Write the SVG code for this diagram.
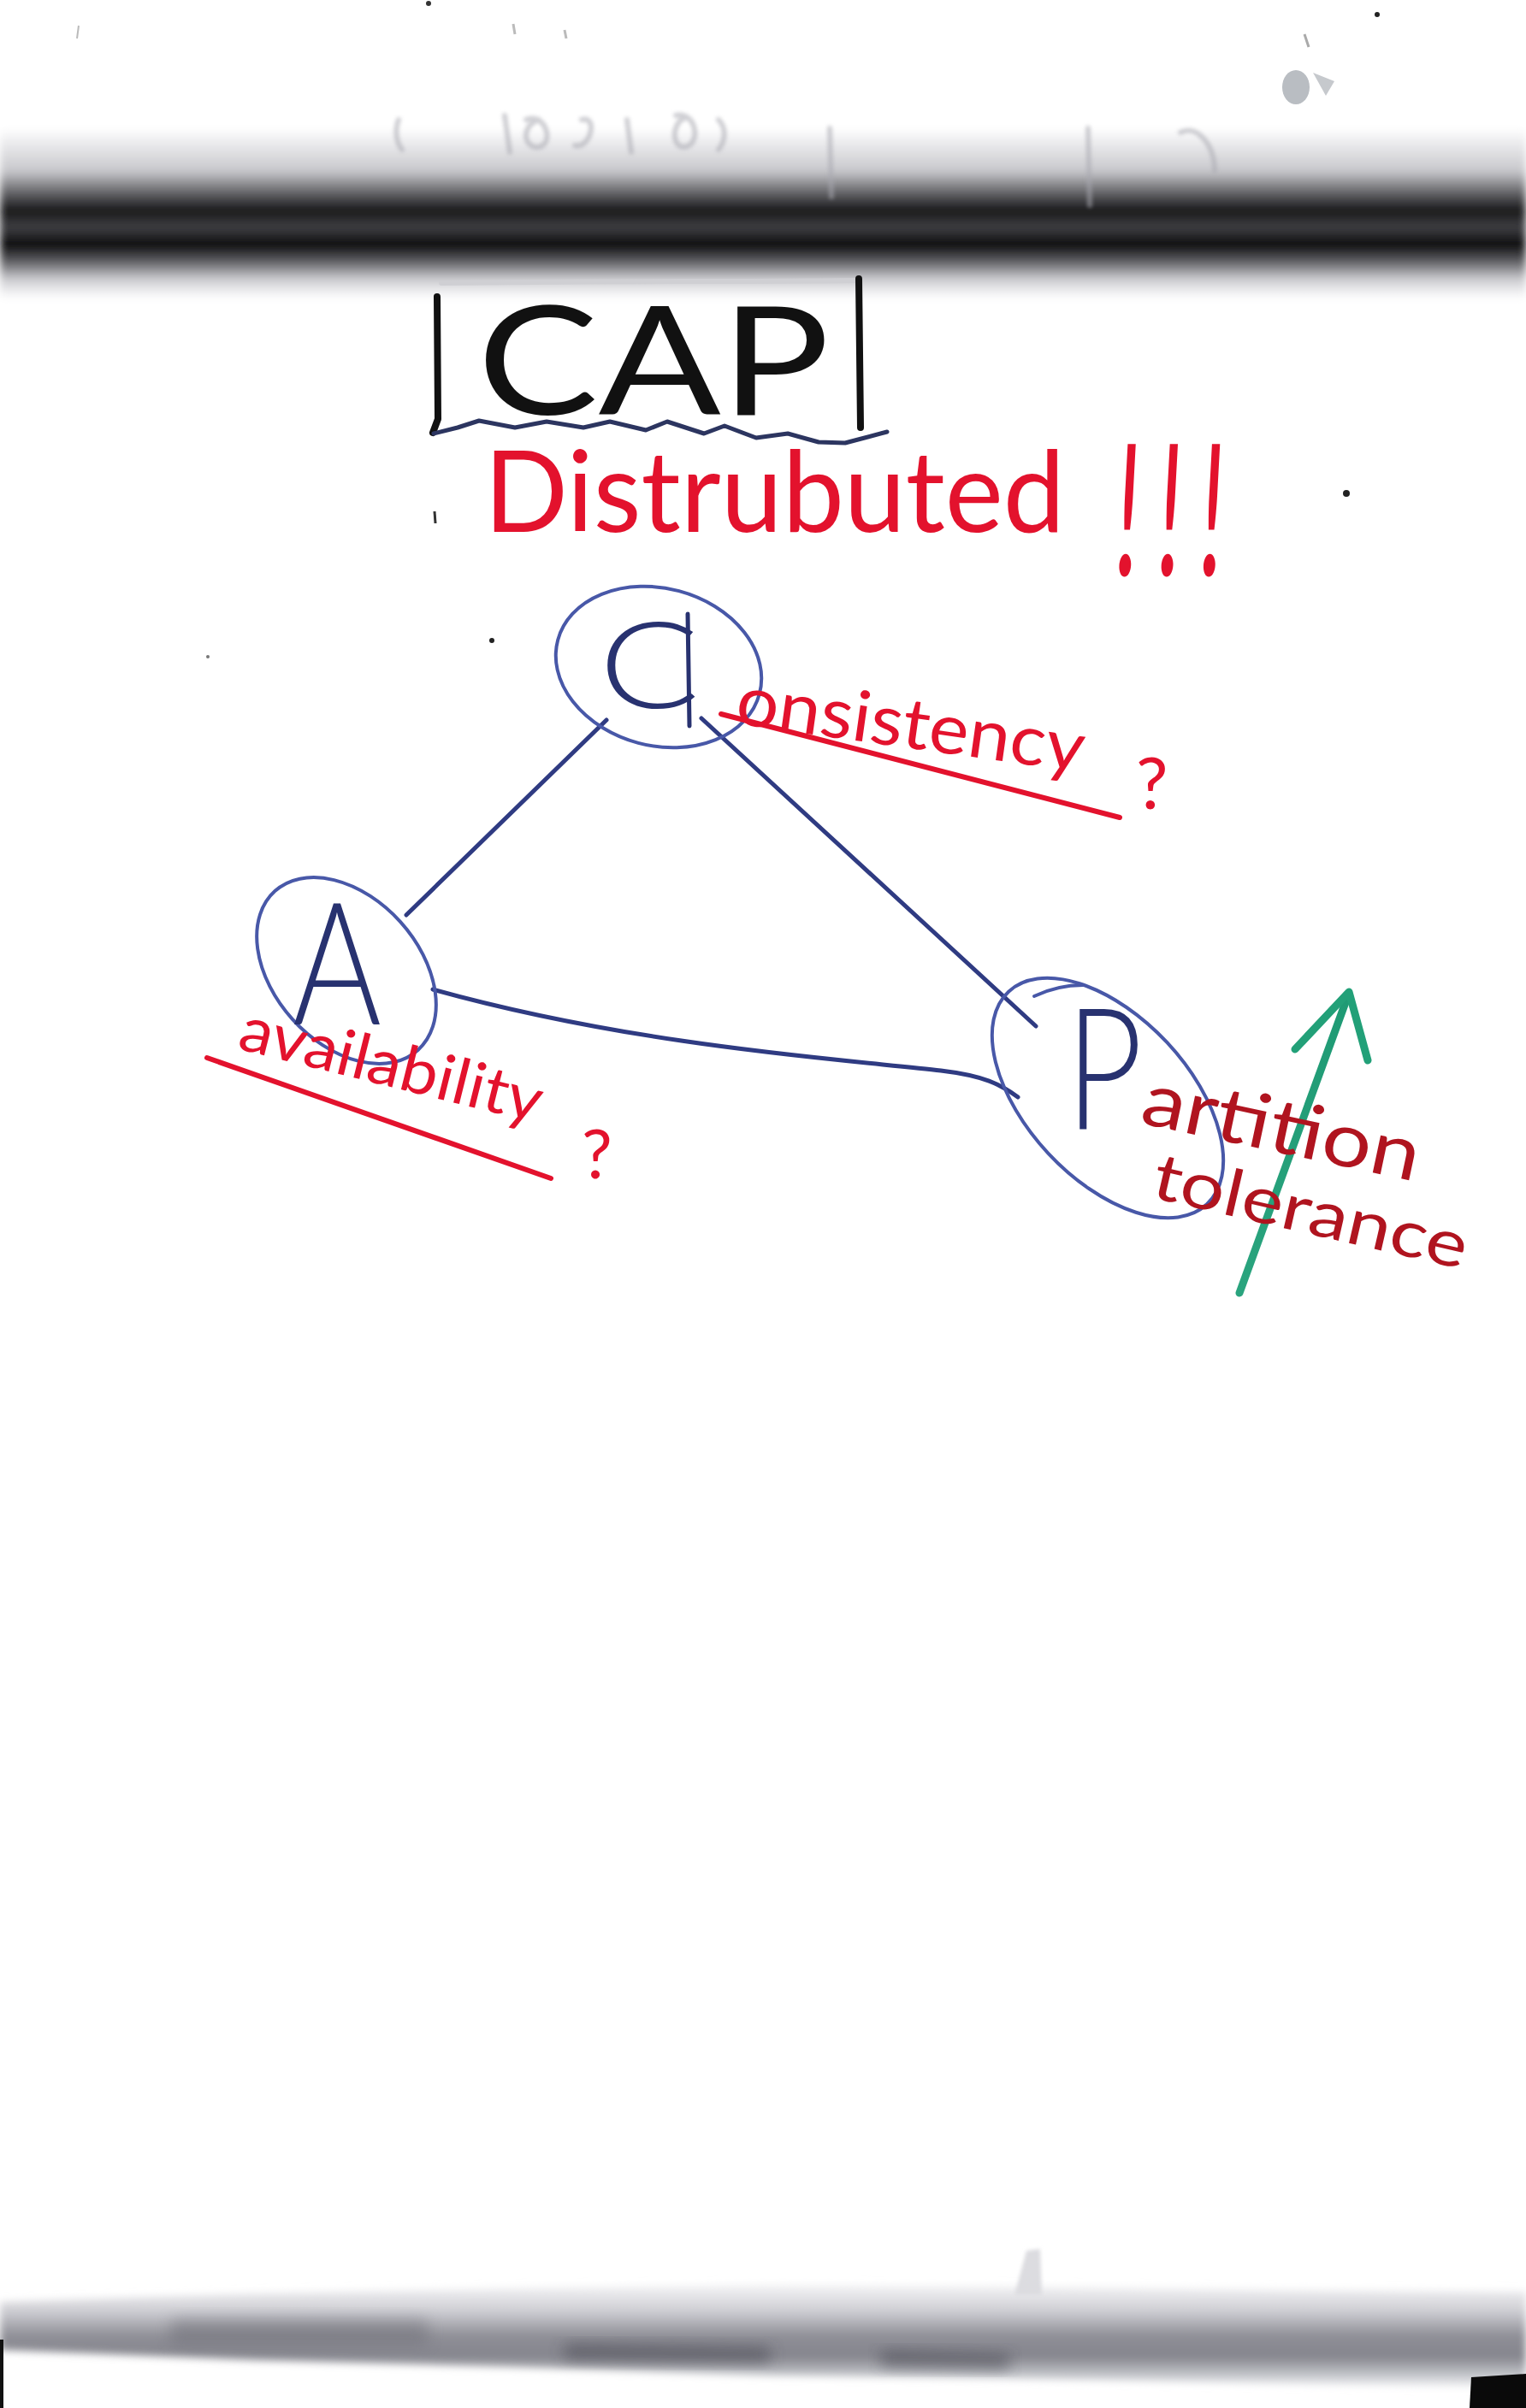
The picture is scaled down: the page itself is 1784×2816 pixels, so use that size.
<svg xmlns="http://www.w3.org/2000/svg" width="1784" height="2816" viewBox="0 0 1784 2816">
<style>
.ink{fill:none;stroke-linecap:round;stroke-linejoin:round}
.ring{fill:none;stroke:#4858a8;stroke-width:4}
.edge{fill:none;stroke:#2f3b82;stroke-width:5;stroke-linecap:round}
.node-letter{font-family:Lato,"Liberation Sans",sans-serif;font-weight:300;fill:#283270}
.red{font-family:Lato,"Liberation Sans",sans-serif;font-weight:400;fill:#e3122d}
.dark-red{font-family:Lato,"Liberation Sans",sans-serif;font-weight:400;fill:#b0141f}
</style>
<defs>
<linearGradient id="topBand" x1="0" y1="0" x2="0" y2="1">
<stop offset="0" stop-color="#ffffff"/>
<stop offset="0.08" stop-color="#ececee"/>
<stop offset="0.25" stop-color="#c8c8cc"/>
<stop offset="0.36" stop-color="#707074"/>
<stop offset="0.48" stop-color="#151517"/>
<stop offset="0.58" stop-color="#404044"/>
<stop offset="0.68" stop-color="#08080a"/>
<stop offset="0.78" stop-color="#606064"/>
<stop offset="0.88" stop-color="#cacace"/>
<stop offset="0.95" stop-color="#ececee"/>
<stop offset="1" stop-color="#ffffff"/>
</linearGradient>
<linearGradient id="botBand" x1="0" y1="0" x2="0" y2="1">
<stop offset="0" stop-color="#f4f4f6"/>
<stop offset="0.25" stop-color="#cfcfd4"/>
<stop offset="0.5" stop-color="#8e8e96"/>
<stop offset="0.7" stop-color="#85858d"/>
<stop offset="0.88" stop-color="#c4c6cb"/>
<stop offset="1" stop-color="#f6f6f8"/>
</linearGradient>
<linearGradient id="greenGrad" x1="0" y1="1" x2="0" y2="0">
<stop offset="0" stop-color="#2aa47e"/>
<stop offset="1" stop-color="#1f9a74"/>
</linearGradient>
<filter id="soft" x="-5%" y="-30%" width="110%" height="160%"><feGaussianBlur stdDeviation="5"/></filter>
<filter id="softer" x="-20%" y="-20%" width="140%" height="140%"><feGaussianBlur stdDeviation="2"/></filter>
<filter id="blurBig" x="-10%" y="-50%" width="120%" height="200%"><feGaussianBlur stdDeviation="9"/></filter>
</defs>

<rect width="1784" height="2816" fill="#ffffff"/>

<g id="board-top">
<rect x="0" y="150" width="1784" height="200" fill="url(#topBand)" filter="url(#soft)"/>
<g fill="none" stroke="#a8a8b0" stroke-width="6" stroke-linecap="round" opacity="0.55" filter="url(#softer)">
<path d="M466,140 C462,150 462,165 470,175"/>
<path d="M590,135 L596,178"/>
<path d="M615,140 C640,130 650,175 625,172 C610,168 612,145 630,140"/>
<path d="M680,140 C700,135 690,175 672,170"/>
<path d="M733,140 L738,178"/>
<path d="M790,135 C815,130 820,170 800,172 C785,172 785,145 800,138"/>
<path d="M840,140 C850,150 848,165 840,175"/>
<path d="M970,150 L972,230"/>
<path d="M1272,150 L1274,240"/>
<path d="M1380,155 C1400,145 1420,170 1420,200"/>
</g>
<ellipse cx="1515" cy="102" rx="16" ry="20" fill="#b9bdc2"/>
<path d="M1535,85 L1560,95 L1550,112 Z" fill="#c6c9cd"/>
<circle cx="1610" cy="17" r="3" fill="#222"/>
<circle cx="501" cy="4" r="3" fill="#333"/>
<path d="M1525,40 L1530,55" stroke="#aaa" stroke-width="3"/>
<path d="M92,30 L90,45" stroke="#bbb" stroke-width="2"/>
<path d="M600,28 L602,40" stroke="#bbb" stroke-width="3"/>
<path d="M660,35 L662,45" stroke="#bbb" stroke-width="3"/>
</g>

<g id="board-bottom">
<path d="M0,2692 L300,2682 L600,2676 L900,2672 L1200,2674 L1500,2678 L1784,2680 L1784,2792 L1500,2788 L1200,2782 L900,2778 L600,2768 L300,2760 L0,2748 Z" fill="url(#botBand)" filter="url(#soft)"/>
<path d="M1186,2684 L1200,2632 L1216,2630 L1218,2684 Z" fill="#dcdce0" filter="url(#softer)"/>
<path d="M660,2742 L900,2746 L900,2762 L660,2758 Z" fill="#3a3a44" opacity="0.55" filter="url(#blurBig)"/>
<path d="M1030,2750 L1180,2754 L1180,2770 L1030,2766 Z" fill="#3a3a44" opacity="0.55" filter="url(#blurBig)"/>
<path d="M200,2712 L500,2712 L500,2740 L200,2740 Z" fill="#5a5a64" opacity="0.35" filter="url(#blurBig)"/>
<rect x="0" y="2736" width="4" height="80" fill="#111"/>
<path d="M1720,2780 L1784,2776 L1784,2816 L1718,2816 Z" fill="#0a0a0a"/>
</g>

<g id="title-cap">
<path class="ink" d="M516,331 C700,328 850,330 1000,328" stroke="#cfcfd3" stroke-width="6"/>
<path class="ink" d="M511,347 L512,490 L506,506" stroke="#111" stroke-width="8"/>
<path class="ink" d="M1004,326 L1006,500" stroke="#111" stroke-width="8"/>
<path class="ink" d="M507,507 L535,500 L560,492 L602,500 L639,493 L682,500 L713,493 L755,503 L780,493 L823,507 L847,498 L884,512 L921,507 L957,517 L988,518 L1037,505" stroke="#2c3560" stroke-width="5"/>
<text x="558" y="485" font-family="Lato,'Liberation Sans',sans-serif" font-weight="400" font-size="176" fill="#111" textLength="412" lengthAdjust="spacingAndGlyphs">CAP</text>
</g>

<g id="title-distributed">
<text class="red" x="566" y="622" font-size="132" textLength="679" lengthAdjust="spacingAndGlyphs">Distrubuted</text>
<text class="red" x="0" y="0" font-size="110" font-weight="300" textLength="128" lengthAdjust="spacing" transform="translate(1300 673) scale(1 1.95) skewX(-6)">!!!</text>
</g>

<g id="specks" fill="#222">
<circle cx="1574" cy="577" r="4"/>
<path d="M508,598 L509,612" stroke="#333" stroke-width="3"/>
<circle cx="575" cy="749" r="3"/>
<circle cx="243" cy="768" r="2" fill="#777"/>
</g>

<g id="connectors">
<path class="edge" d="M709,842 L475,1070"/>
<path class="edge" d="M820,840 L1211,1200"/>
<path class="edge" d="M506,1157 C750,1225 1000,1240 1100,1252 C1150,1258 1170,1268 1190,1283"/>
</g>

<g id="node-c">
<ellipse class="ring" cx="770" cy="780" rx="122" ry="92" transform="rotate(15 770 780)"/>
<text class="node-letter" x="700" y="828" font-size="140" textLength="118" lengthAdjust="spacingAndGlyphs">C</text>
<path class="ink" d="M804,718 L806,849" stroke="#283270" stroke-width="5"/>
</g>

<g id="node-a">
<ellipse class="ring" cx="405" cy="1135" rx="125" ry="85" transform="rotate(48 405 1135)"/>
<text class="node-letter" x="342" y="1198" font-size="200" textLength="104" lengthAdjust="spacingAndGlyphs">A</text>
</g>

<g id="node-p">
<ellipse class="ring" cx="1295" cy="1284" rx="170" ry="95" transform="rotate(47 1295 1284)"/>
<path class="ink" d="M1209,1165 C1230,1155 1250,1152 1266,1152" stroke="#4858a8" stroke-width="4"/>
<text class="node-letter" x="1246" y="1320" font-size="198" textLength="90" lengthAdjust="spacingAndGlyphs">P</text>
</g>

<g id="label-consistency">
<path class="ink" d="M843,835 L1309,956" stroke="#e3122d" stroke-width="6"/>
<text class="red" x="858" y="846" font-size="82" textLength="410" lengthAdjust="spacingAndGlyphs" transform="rotate(8 858 846)">onsistency</text>
<text class="red" x="1328" y="946" font-size="84">?</text>
</g>

<g id="label-availability">
<path class="ink" d="M242,1237 L644,1378" stroke="#e3122d" stroke-width="6"/>
<text class="red" x="276" y="1226" font-size="74" textLength="362" lengthAdjust="spacingAndGlyphs" transform="rotate(14 276 1226)">availability</text>
<text class="red" x="680" y="1378" font-size="80">?</text>
</g>

<g id="label-partition">
<path class="ink" d="M1449,1512 L1576,1164" stroke="url(#greenGrad)" stroke-width="9"/>
<path class="ink" d="M1514,1227 L1577,1160 L1599,1240" stroke="#22a078" stroke-width="9"/>
<text class="dark-red" x="1331" y="1313" font-size="88" textLength="330" lengthAdjust="spacingAndGlyphs" transform="rotate(12 1331 1313)">artition</text>
<text class="dark-red" x="1344" y="1400" font-size="76" textLength="375" lengthAdjust="spacingAndGlyphs" transform="rotate(13 1344 1400)">tolerance</text>
</g>
</svg>
